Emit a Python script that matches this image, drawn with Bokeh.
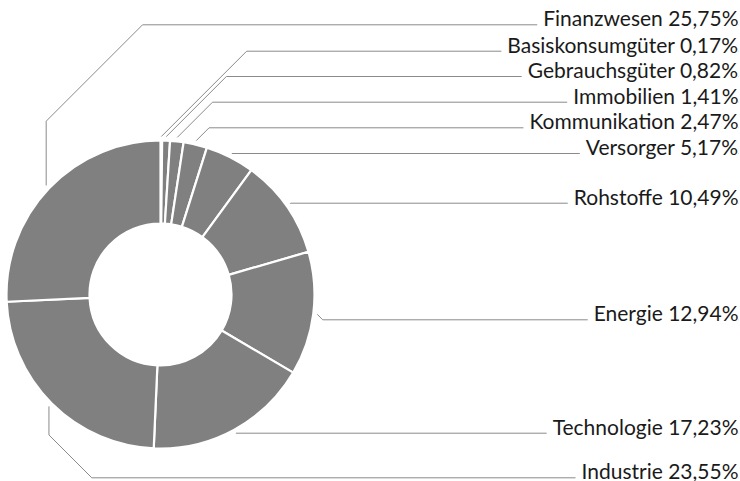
import math
from bokeh.plotting import figure
from bokeh.models import Range1d, ColumnDataSource
from bokeh.core.properties import value
from bokeh.embed import file_html
from bokeh.resources import INLINE

# ---- data ----
categories = ["Basiskonsumgüter", "Gebrauchsgüter", "Immobilien", "Kommunikation",
              "Versorger", "Rohstoffe", "Energie", "Technologie", "Industrie", "Finanzwesen"]
shares = [0.17, 0.82, 1.41, 2.47, 5.17, 10.49, 12.94, 17.23, 23.55, 25.75]

# ---- layout (pixels from top of the page) ----
label_y_px = [50.7, 76.0, 101.7, 127.3, 153.0, 202.7, 319.3, 432.7, 477.3, 24.3]

W, H = 740, 481
CX, CY_PX = 160.0, 294.0
R_IN, R_OUT, R_LEAD = 71.0, 154.0, 158.0
TEXT_X = 738.0

def fy(ypx):
    return H - ypx

total = sum(shares)
starts, ends, mids = [], [], []
c = 0.0
for v in shares:
    f0 = c / total
    c += v
    f1 = c / total
    starts.append(f0)
    ends.append(f1)
    mids.append((f0 + f1) / 2)

wedges = ColumnDataSource(dict(
    x=[CX] * len(shares), y=[fy(CY_PX)] * len(shares),
    start=[math.pi / 2 - 2 * math.pi * f for f in starts],
    end=[math.pi / 2 - 2 * math.pi * f for f in ends],
))

p = figure(width=W, height=H, output_backend="svg", toolbar_location=None,
           x_range=Range1d(0, W), y_range=Range1d(0, H), min_border=0)
p.axis.visible = False
p.grid.visible = False
p.outline_line_color = None
p.background_fill_color = "white"
p.border_fill_color = "white"

p.annular_wedge(x="x", y="y", inner_radius=R_IN, outer_radius=R_OUT,
                start_angle="start", end_angle="end", direction="clock",
                fill_color="#808080", line_color="white", line_width=2.2,
                source=wedges)

# leader lines
xs, ys = [], []
for m, ly in zip(mids, label_y_px):
    th = 2 * math.pi * m
    px = CX + R_LEAD * math.sin(th)
    py = CY_PX - R_LEAD * math.cos(th)
    dy = ly - py
    if px >= CX:
        pts = [(px, py), (px + abs(dy), ly), (TEXT_X, ly)]
    else:
        vy = py + 0.4 * dy
        pts = [(px, py), (px, vy), (px + abs(ly - vy), ly), (TEXT_X, ly)]
    xs.append([q[0] for q in pts])
    ys.append([fy(q[1]) for q in pts])

p.multi_line(xs=xs, ys=ys, line_color="#8a8a8a", line_width=1)

labels = [f"{cname} {str(v).replace('.', ',')}%" for cname, v in zip(categories, shares)]
p.text(x=[TEXT_X] * len(labels), y=[fy(y) for y in label_y_px], text=labels,
       text_align="right", text_baseline="alphabetic", y_offset=-7,
       text_font=value("Lato"), text_font_size="21px", text_color="#1a1a1a",
       background_fill_color="white",
       padding=dict(left=6, right=0, top=0, bottom=0))

open("out.html", "w").write(file_html(p, INLINE))
